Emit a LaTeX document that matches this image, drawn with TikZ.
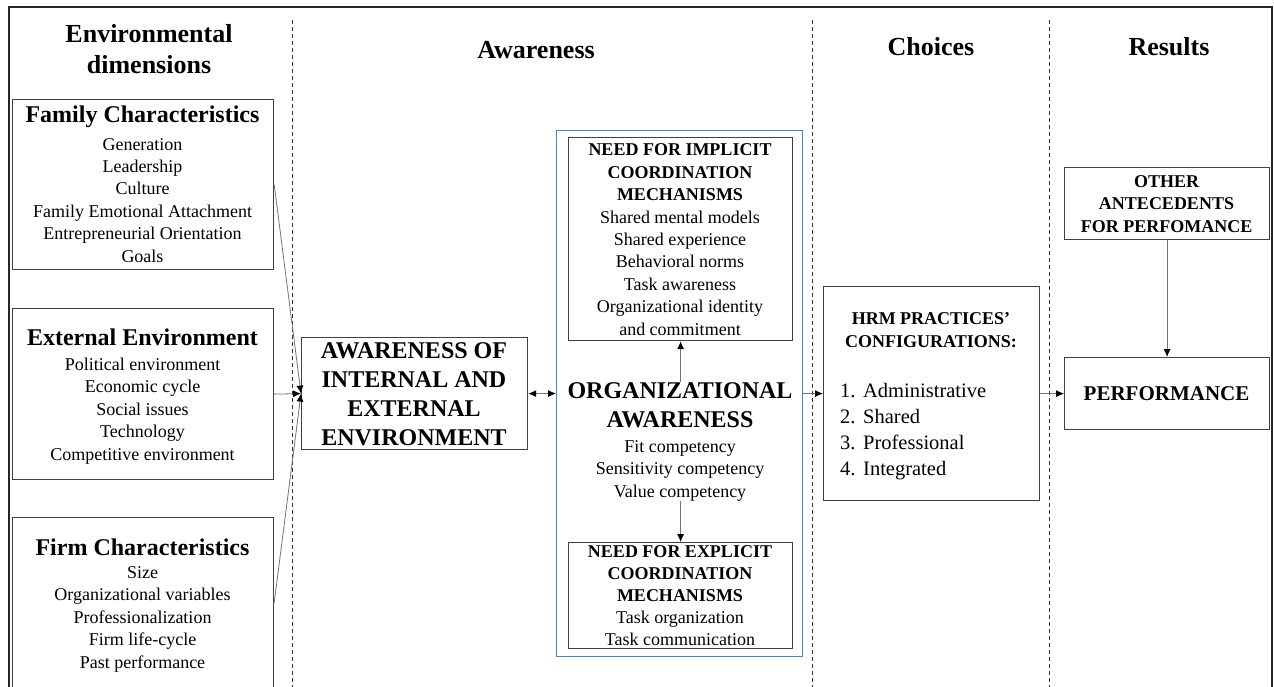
\documentclass[tikz,border=0pt]{standalone}
\usepackage{fontspec}
\setmainfont{Liberation Serif}
\usetikzlibrary{arrows.meta}
\definecolor{boxgray}{RGB}{64,64,64}
\definecolor{frameblue}{RGB}{84,130,190}
\newcommand\myfs[2]{\fontsize{#1}{#2}\selectfont}
\begin{document}
\begin{tikzpicture}[x=1pt,y=-1pt,
  box/.style={draw=boxgray,line width=1.2pt,inner sep=0pt,anchor=north west},
  arr/.style={draw=black!55,line width=0.8pt,-{Latex[length=8pt,width=7pt,color=black]}},
  darr/.style={draw=black!55,line width=0.8pt,{Latex[length=8pt,width=7pt,color=black]}-{Latex[length=8pt,width=7pt,color=black]}},
  sepline/.style={draw=black!80,line width=0.9pt,dash pattern=on 4pt off 3pt},
  head/.style={font=\bfseries\myfs{26}{31},align=center,anchor=base,inner sep=0pt},
  ttl/.style={font=\bfseries\myfs{24}{29},align=center,anchor=base,inner sep=0pt},
  items/.style={font=\myfs{18}{22.4},align=center,anchor=base,inner sep=0pt},
  capt/.style={font=\bfseries\myfs{18}{22.4},align=center,anchor=base,inner sep=0pt},
]
\useasboundingbox (0,0) rectangle (1274,686);
% frame
\draw[line width=2pt,black!85] (9,690) -- (9,7) -- (1272,7) -- (1272,690);
% separators
\draw[sepline] (292,20) -- (292,690);
\draw[sepline] (812,20) -- (812,690);
\draw[sepline] (1049,20) -- (1049,690);
% headers (base = last line baseline)
\node[head] (hEnv) at (149,73) {Environmental\\dimensions};
\node[head] (hAw) at (536,58) {Awareness};
\node[head] (hCh) at (931,55) {Choices};
\node[head] (hRes) at (1169,55) {Results};
% family
\node[box,minimum width=261pt,minimum height=170pt] (fam) at (12,99) {};
\node[ttl] (famT) at (142.5,122) {Family Characteristics};
\node[items] (famI) at (142.5,262) {Generation\\Leadership\\Culture\\Family Emotional Attachment\\Entrepreneurial Orientation\\Goals};
% external
\node[box,minimum width=261pt,minimum height=171pt] (ext) at (12,308) {};
\node[ttl] (extT) at (142.5,345) {External Environment};
\node[items] (extI) at (142.5,460) {Political environment\\Economic cycle\\Social issues\\Technology\\Competitive environment};
% firm
\node[box,minimum width=261pt,minimum height=170pt] (firm) at (12,517) {};
\node[ttl] (firmT) at (142.5,555) {Firm Characteristics};
\node[items] (firmI) at (142.5,668) {Size\\Organizational variables\\Professionalization\\Firm life-cycle\\Past performance};
% awareness of internal and external
\node[box,minimum width=226pt,minimum height=112pt] (awie) at (301,337) {};
\node[ttl] (awieT) at (414,445) {AWARENESS OF\\INTERNAL AND\\EXTERNAL\\ENVIRONMENT};
% blue box
\node[box,draw=frameblue,line width=1pt,minimum width=246pt,minimum height=526pt] (blue) at (556,130) {};
% implicit
\node[box,minimum width=224pt,minimum height=203pt] (imp) at (568,137) {};
\node[items] (impT) at (680,335) {\textbf{NEED FOR IMPLICIT}\\\textbf{COORDINATION}\\\textbf{MECHANISMS}\\Shared mental models\\Shared experience\\Behavioral norms\\Task awareness\\Organizational identity\\and commitment};
% organizational awareness
\node[ttl] (oa) at (680,427) {ORGANIZATIONAL\\AWARENESS};
\node[items] (oaI) at (680,497) {Fit competency\\Sensitivity competency\\Value competency};
% explicit
\node[box,minimum width=224pt,minimum height=106pt] (exp) at (568,542) {};
\node[items,font=\myfs{18}{22}] (expT) at (680,645) {\textbf{NEED FOR EXPLICIT}\\\textbf{COORDINATION}\\\textbf{MECHANISMS}\\Task organization\\Task communication};
% HRM
\node[box,minimum width=216pt,minimum height=214pt] (hrm) at (823,286) {};
\node[capt] (hrmT) at (931,347) {HRM PRACTICES'\\CONFIGURATIONS:};
\node[font=\myfs{20.5}{25.7},align=left,anchor=base west,inner sep=0pt] (hrmI) at (840,475) {\makebox[23pt][l]{1.}Administrative\\\makebox[23pt][l]{2.}Shared\\\makebox[23pt][l]{3.}Professional\\\makebox[23pt][l]{4.}Integrated};
% other antecedents
\node[box,minimum width=205pt,minimum height=72pt] (oth) at (1064,167) {};
\node[capt] (othT) at (1166.5,232) {OTHER\\ANTECEDENTS\\FOR PERFOMANCE};
% performance
\node[box,minimum width=205pt,minimum height=72pt] (perf) at (1064,357) {};
\node[ttl,font=\bfseries\myfs{21}{25}] (perfT) at (1166.5,400) {PERFORMANCE};
% connectors
\draw[arr] (fam.east) -- (awie.west);
\draw[arr] (ext.east) -- (awie.west);
\draw[arr] (firm.east) -- (awie.west);
\draw[darr] (awie.east) -- (blue.west);
\draw[arr] (imp.south |- oa.north) -- (imp.south);
\draw[arr] (exp.north |- oaI.south) -- (exp.north);
\draw[arr] (blue.east) -- (hrm.west);
\draw[arr] (hrm.east) -- (perf.west);
\draw[arr] (oth.south) -- (perf.north);
\end{tikzpicture}
\end{document}
